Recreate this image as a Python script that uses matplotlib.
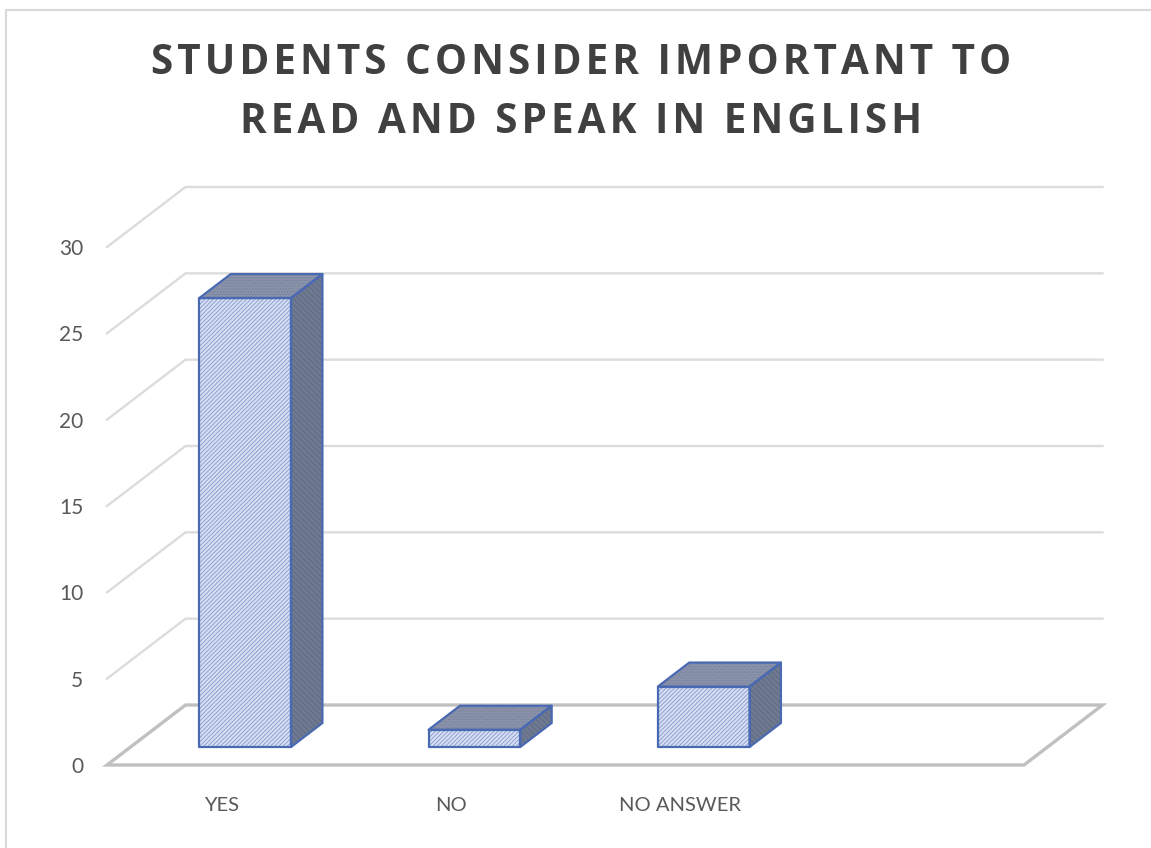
import matplotlib
matplotlib.use("Agg")
import matplotlib.pyplot as plt
from matplotlib.lines import Line2D
from matplotlib.patches import Polygon

title_lines = ["STUDENTS CONSIDER IMPORTANT TO", "READ AND SPEAK IN ENGLISH"]
categories = ["YES", "NO", "NO ANSWER"]
values = [26, 1, 3.5]
y_ticks = [0, 5, 10, 15, 20, 25, 30]

W, H = 1151, 848
# depth goes back and to the right, like the excel 3d column
DX = 78.5 / 229.25
DY = 60 / 17.27
N_SLOTS = 4

plt.rcParams['font.family'] = ['Lato', 'DejaVu Sans']
plt.rcParams['hatch.linewidth'] = 0.7

fig = plt.figure(figsize=(W / 100, H / 100), dpi=100)
ax = fig.add_axes([107 / W, (H - 765) / H, 917 / W, 578 / H])
ax.set_xlim(0, N_SLOTS)
ax.set_ylim(0, 30 + DY)
for s in ax.spines.values():
    s.set_visible(False)


def pt(x, v, d):
    return (x + d * DX, v + d * DY)


# walls
for v in y_ticks[1:]:
    xs, ys = zip(pt(0, v, 0), pt(0, v, 1), pt(N_SLOTS, v, 1))
    ax.plot(xs, ys, color='#dcdcdc', lw=1.7, clip_on=False, zorder=1)

# floor
floor = [pt(0, 0, 0), pt(0, 0, 1), pt(N_SLOTS, 0, 1), pt(N_SLOTS, 0, 0)]
ax.add_patch(Polygon(floor, closed=True, fill=False, edgecolor='#c0c0c0', lw=2.4,
                     clip_on=False, zorder=2))

# bars
blue = '#4a69b3'
width = 0.4
d0, d1 = 0.3, 0.7
for i, val in enumerate(values):
    x0 = i + 0.5 - width / 2
    x1 = x0 + width
    front = [pt(x0, 0, d0), pt(x0, val, d0), pt(x1, val, d0), pt(x1, 0, d0)]
    top = [pt(x0, val, d0), pt(x0, val, d1), pt(x1, val, d1), pt(x1, val, d0)]
    side = [pt(x1, 0, d0), pt(x1, val, d0), pt(x1, val, d1), pt(x1, 0, d1)]
    ax.add_patch(Polygon(front, closed=True, facecolor='#d8dff1', edgecolor='#8ca1d6',
                         hatch='////////', lw=0, zorder=3))
    ax.add_patch(Polygon(top, closed=True, facecolor='#8a93aa', edgecolor='#77819b',
                         hatch='......', lw=0, zorder=3))
    ax.add_patch(Polygon(side, closed=True, facecolor='#6f7a90', edgecolor='#5f6b84',
                         hatch='\\\\\\\\\\\\', lw=0, zorder=3))
    for poly in (front, top, side):
        ax.add_patch(Polygon(poly, closed=True, fill=False, edgecolor=blue, lw=1.6,
                             joinstyle='round', zorder=4))

ax.set_yticks(y_ticks)
ax.set_xticks([i + 0.5 for i in range(len(categories))])
ax.set_xticklabels(categories)
ax.tick_params(axis='y', length=0, pad=17, labelsize=15, labelcolor='#595959')
ax.tick_params(axis='x', length=0, pad=23, labelsize=14.5, labelcolor='#595959')

# the title is letterspaced in the original, hair spaces get close to that
spaced = "\n".join("\u200a".join(line) for line in title_lines)
fig.text(581 / W, (H - 93) / H, spaced, ha='center', va='center', fontsize=29.2,
         fontweight='bold', family=['Open Sans', 'DejaVu Sans'], color='#404040',
         linespacing=1.6)

# chart border, only top and left show in the crop
fig.add_artist(Line2D([6 / W, 6 / W, 1], [0, (H - 10) / H, (H - 10) / H],
                      color='#d9d9d9', lw=1.5))

fig.savefig("out.png", dpi=100)
